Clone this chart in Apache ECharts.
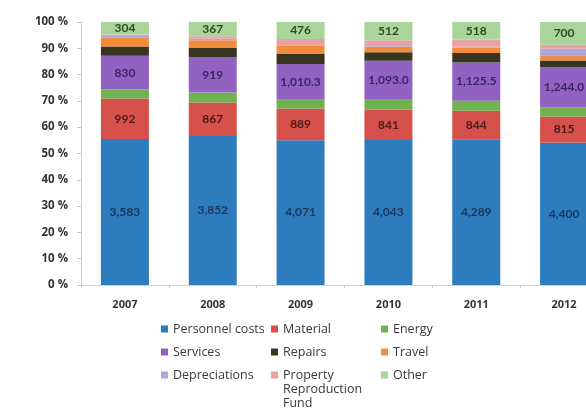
<!DOCTYPE html>
<html>
<head>
<meta charset="utf-8">
<style>
html,body{margin:0;padding:0;background:#fff;overflow:hidden;width:586px;height:408px;}
#chart{width:620px;height:408px;}
</style>
<script src="https://cdn.jsdelivr.net/npm/echarts@6/dist/echarts.min.js"></script>
</head>
<body>
<div id="chart"></div>
<script>
var years = ['2007', '2008', '2009', '2010', '2011', '2012'];
var personnel = [3583, 3852, 4071, 4043, 4289, 4400];
var material = [992, 867, 889, 841, 844, 815];
var energy = [220, 258, 244, 279, 294, 285];
var services = [830, 919, 1010.3, 1093.0, 1125.5, 1244.0];
var servicesDecimals = [0, 0, 1, 1, 1, 1];
var repairs = [226, 231, 281, 235, 279, 203];
var travel = [226, 204, 222, 147, 163, 163];
var depreciations = [32, 34, 22, 22, 23, 195];
var propertyFund = [39, 68, 177, 161, 209, 130];
var other = [304, 367, 476, 512, 518, 700];
var yTicks = [0, 10, 20, 30, 40, 50, 60, 70, 80, 90, 100];
var seriesNames = ['Personnel costs', 'Material', 'Energy', 'Services', 'Repairs', 'Travel',
  'Depreciations', 'Property Reproduction Fund', 'Other'];
var legendColumns = [
  ['Personnel costs', 'Services', 'Depreciations'],
  ['Material', 'Repairs', 'Property Reproduction Fund'],
  ['Energy', 'Travel', 'Other']
];
var propertyLines = ['Property', 'Reproduction', 'Fund'];

var FONT = 'Open Sans';
var totals = years.map(function (y, i) {
  return personnel[i] + material[i] + energy[i] + services[i] + repairs[i] +
    travel[i] + depreciations[i] + propertyFund[i] + other[i];
});

function fmt(v, dec) {
  var s = v.toFixed(dec || 0);
  var parts = s.split('.');
  parts[0] = parts[0].replace(/\B(?=(\d{3})+(?!\d))/g, ',');
  return parts.join('.');
}

function mk(name, arr, color, labelColor, decs) {
  var s = {
    name: name,
    type: 'bar',
    stack: 'total',
    barWidth: 48,
    itemStyle: { color: color },
    emphasis: { disabled: true },
    data: arr.map(function (v, i) { return v / totals[i] * 100; })
  };
  if (labelColor) {
    s.label = {
      show: true,
      position: 'inside',
      color: labelColor,
      fontFamily: 'Lato',
      fontSize: 12,
      fontWeight: 'bold',
      formatter: function (p) {
        var d = decs ? decs[p.dataIndex] : 0;
        return fmt(arr[p.dataIndex], d);
      }
    };
  }
  return s;
}

var series = [
  mk(seriesNames[0], personnel, '#2d7cbd', '#1c3558'),
  mk(seriesNames[1], material, '#d6514b', '#4a1a18'),
  mk(seriesNames[2], energy, '#6fb24f'),
  mk(seriesNames[3], services, '#9162c2', '#3a2464', servicesDecimals),
  mk(seriesNames[4], repairs, '#37351f'),
  mk(seriesNames[5], travel, '#f28c3c'),
  mk(seriesNames[6], depreciations, '#aaa8dc'),
  mk(seriesNames[7], propertyFund, '#e9a1a3'),
  mk(seriesNames[8], other, '#a9d59b', '#2b4a22')
];

var LFS = 12.5;
var colLeft = [161, 271, 381];
var rowCenter = [329, 352, 375];
var legends = [];
var graphics = [];
legendColumns.forEach(function (col, ci) {
  col.forEach(function (name, ri) {
    var isProp = name === seriesNames[7];
    legends.push({
      orient: 'horizontal',
      left: colLeft[ci],
      top: rowCenter[ri] - 7,
      padding: 0,
      itemWidth: 7,
      itemHeight: 7,
      icon: 'rect',
      selectedMode: false,
      formatter: isProp ? function () { return propertyLines[0]; } : '{name}',
      textStyle: { fontFamily: FONT, fontSize: LFS, color: '#3a3a3a', lineHeight: 14 },
      data: [name]
    });
    if (isProp) {
      graphics.push({
        type: 'text',
        left: colLeft[ci] + 12,
        top: rowCenter[ri] + 7,
        style: {
          text: propertyLines.slice(1).join('\n'),
          font: LFS + 'px "' + FONT + '"',
          fill: '#3a3a3a',
          lineHeight: 14
        }
      });
    }
  });
});

var chart = echarts.init(document.getElementById('chart'), null, { renderer: 'canvas' });
chart.setOption({
  animation: false,
  backgroundColor: '#fff',
  grid: { left: 81, top: 22, width: 527, height: 263, containLabel: false },
  legend: legends,
  graphic: graphics,
  xAxis: {
    type: 'category',
    data: years,
    axisLine: { lineStyle: { color: '#d0d0d0' } },
    axisTick: { show: true, length: 3, lineStyle: { color: '#c8c8c8' } },
    axisLabel: { fontFamily: FONT, fontSize: 11, fontWeight: 'bold', color: '#333', margin: 14 }
  },
  yAxis: {
    type: 'value',
    min: yTicks[0],
    max: yTicks[yTicks.length - 1],
    interval: yTicks[1] - yTicks[0],
    axisLine: { show: true, lineStyle: { color: '#d0d0d0' } },
    axisTick: { show: true, length: 4, lineStyle: { color: '#c8c8c8' } },
    splitLine: { show: false },
    axisLabel: { fontFamily: FONT, fontSize: 11.5, fontWeight: 'bold', color: '#333', margin: 13, formatter: '{value} %' }
  },
  series: series
});
</script>
</body>
</html>
